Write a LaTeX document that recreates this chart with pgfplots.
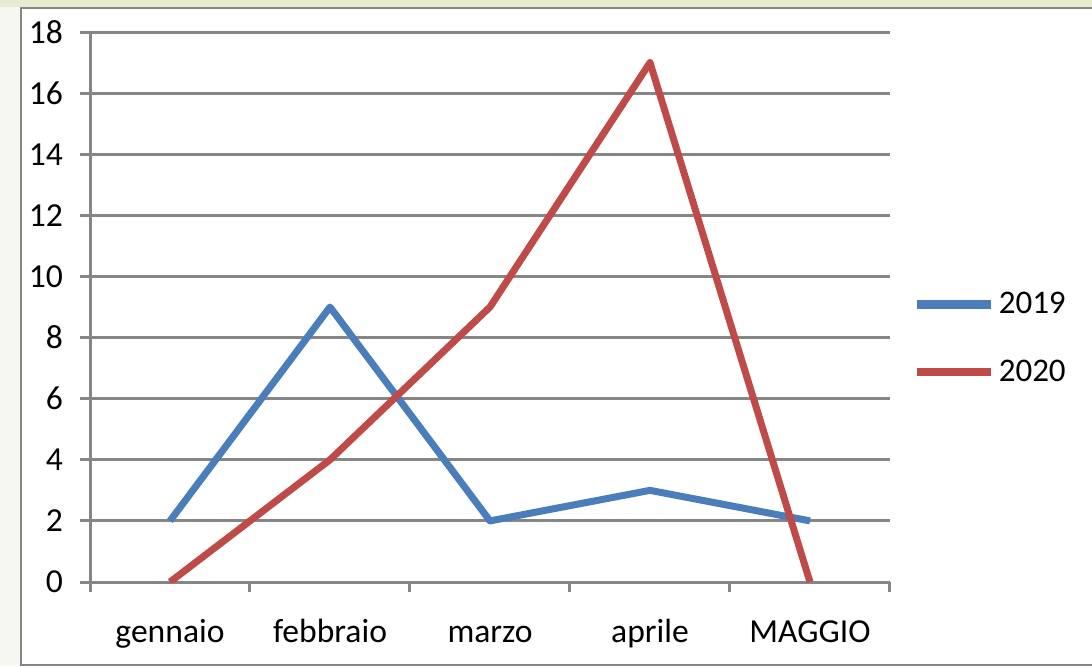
\documentclass[border=0pt]{standalone}
\usepackage{fontspec}
\setmainfont{Carlito}
\usepackage{pgfplots}
\pgfplotsset{compat=1.18}
\definecolor{gridgray}{HTML}{868686}
\definecolor{sblue}{HTML}{4A7EBB}
\definecolor{sred}{HTML}{BE4B48}
\definecolor{bgl}{HTML}{F7F7F1}
\definecolor{topgreen}{HTML}{E6ECD0}
\begin{document}
\begin{tikzpicture}
\useasboundingbox (0,0) rectangle (546pt,-333pt);
\fill[bgl] (0,0) rectangle (546pt,-333pt);
\fill[topgreen] (0,0) rectangle (546pt,-3.5pt);
\filldraw[fill=white,draw=gridgray,line width=1.1pt] (10.3pt,-4pt) rectangle (560pt,-332.5pt);
\begin{axis}[
  at={(45pt,-291pt)}, anchor=south west,
  scale only axis, width=400pt, height=275pt,
  xmin=-0.5, xmax=4.5, ymin=0, ymax=18,
  axis lines*=left,
  axis line style={draw=gridgray, line width=1.5pt},
  tick align=outside,
  major tick length=5pt,
  tick style={draw=gridgray, line width=1.5pt},
  ytick={0,2,...,18},
  ymajorgrids,
  grid style={draw=gridgray, line width=1.5pt},
  xtick={-0.5,0.5,...,4.5},
  xticklabels={},
  extra x ticks={0,1,2,3,4},
  extra x tick labels={gennaio,febbraio,marzo,aprile,MAGGIO},
  extra x tick style={major tick length=0pt, grid=none},
  /pgf/number format/assume math mode=true,
  tick label style={font=\fontsize{16.8}{19}\selectfont},
  yticklabel style={anchor=east, xshift=-5pt},
  xticklabel style={anchor=base, yshift=-30pt},
  legend style={at={(rel axis cs:1.0275,0.443)}, anchor=west, draw=none, fill=none,
    inner sep=0pt, font=\fontsize{16.5}{19}\selectfont, row sep=17.5pt,
    nodes={inner xsep=2pt}},
  legend cell align=left,
  legend image code/.code={\draw[#1, line width=4.2pt] (0pt,0pt) -- (37pt,0pt);},
]
\addplot[sblue, line width=3.5pt, line join=round] coordinates {(0,2) (1,9) (2,2) (3,3) (4,2)};
\addlegendentry{2019}
\addplot[sred, line width=3.5pt, line join=round] coordinates {(0,0) (1,4) (2,9) (3,17) (4,0)};
\addlegendentry{2020}
\end{axis}
\end{tikzpicture}
\end{document}
